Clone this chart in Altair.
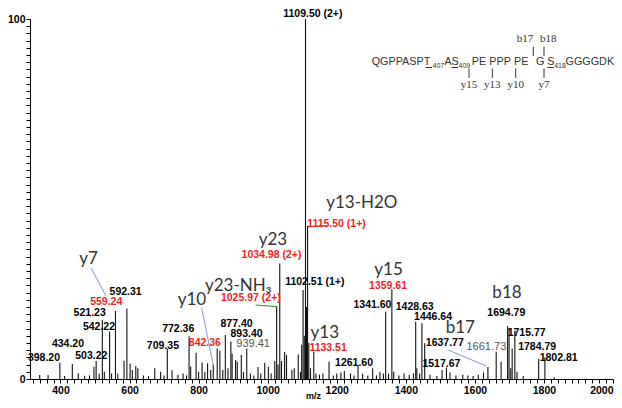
import altair as alt
import pandas as pd

# ---------------- data: peaks (m/z, relative intensity %) ----------------
peak_mz = [339.8, 364, 398.20, 412, 434.20, 451.5, 470, 484, 496.9, 503.22, 512,
           521.23, 527, 542.22, 548, 559.24, 566, 584, 592.31, 601.6, 608, 618, 624,
           640, 655, 673, 690, 700, 709.35, 723, 740, 755, 765, 772.36, 777, 792.7,
           800, 810, 818, 826, 835, 842.36, 853.8, 861.6, 870, 877.40, 885, 893.40,
           897, 907, 912, 923.6, 930, 939.41, 950, 960, 972, 980, 991.4, 1002, 1010,
           1020.5, 1025.97, 1030, 1034.98, 1040, 1049, 1054.5, 1070, 1077, 1088.5,
           1095, 1098.5, 1102.51, 1106, 1109.50, 1112.5, 1115.50, 1119, 1124, 1133.51,
           1140, 1150, 1160, 1177.7, 1190, 1200, 1212, 1222, 1240, 1250, 1261.60,
           1275, 1290, 1304, 1315, 1325, 1335, 1341.60, 1350, 1359.61, 1365, 1380,
           1395, 1410, 1422, 1428.63, 1432, 1440, 1446.64, 1454.7, 1470, 1490, 1505,
           1517.67, 1528, 1545, 1565, 1580, 1595, 1610, 1625, 1637.77, 1661.73, 1676,
           1694.79, 1699, 1704, 1708, 1715.77, 1722, 1740, 1784.79, 1802.81, 1830]
peak_int = [1.1, 1.1, 4.5, 0.8, 4.2, 1.6, 0.9, 1.0, 3.4, 5.0, 1.5,
            16.4, 2.0, 13.1, 1.5, 18.9, 1.5, 5.1, 19.6, 4.3, 2.5, 3.6, 3.0,
            1.0, 0.8, 3.0, 2.0, 1.0, 8.4, 2.4, 1.2, 1.5, 1.0, 11.9, 3.5, 7.3,
            2.0, 4.6, 2.0, 4.4, 2.5, 4.0, 8.5, 7.9, 2.5, 12.2, 3.0, 10.4,
            7.0, 5.3, 4.8, 6.7, 2.0, 8.5, 1.5, 1.0, 3.3, 1.5, 4.5, 3.3, 1.5,
            5.0, 20.3, 4.0, 32.1, 5.0, 7.5, 6.7, 2.5, 3.0, 6.8,
            2.0, 9.5, 24.7, 12.0, 100, 20.0, 42.5, 10.0, 3.0, 7.6,
            1.5, 1.2, 1.5, 4.8, 1.0, 1.5, 1.8, 2.2, 1.5, 1.0, 3.9,
            1.5, 1.0, 3.0, 1.0, 2.0, 1.5, 18.7, 1.5, 24.9, 2.0, 1.0,
            1.5, 1.2, 1.5, 15.9, 3.0, 1.5, 15.5, 9.9, 1.2, 0.8, 2.5,
            3.2, 1.8, 1.0, 1.2, 1.0, 0.8, 1.2, 1.8, 3.3, 7.6, 4.8,
            14.7, 14.2, 3.0, 8.5, 13.5, 2.0, 0.8, 5.6, 6.0, 0.5]

# ---------------- peak value labels ----------------
num_text = ["1109.50 (2+)", "592.31", "521.23", "542.22", "434.20", "503.22", "398.20",
            "709.35", "772.36", "877.40", "893.40", "1102.51 (1+)", "1341.60", "1428.63",
            "1446.64", "1261.60", "1517.67", "1637.77", "1694.79", "1715.77", "1784.79",
            "1802.81"]
num_mz = [1130.7, 588.7, 484.5, 511.4, 421.7, 489.1, 352.2,
          696.6, 740.9, 909.9, 938.8, 1136.4, 1303.4, 1425.8,
          1478.8, 1250.2, 1503.1, 1513.0, 1691.0, 1750.0, 1780.3,
          1842.5]
num_int = [101.4, 24.25, 18.25, 14.4, 9.6, 6.4, 5.9,
           9.2, 13.8, 15.3, 12.5, 26.9, 20.5, 19.9,
           17.1, 4.4, 4.2, 9.9, 18.25, 12.9, 8.8,
           5.75]

red_text = ["559.24", "842.36", "1025.97 (2+)", "1034.98 (2+)", "1115.50 (1+)",
            "1359.61", "1133.51"]
red_mz = [532.5, 818.1, 951.3, 1011.1, 1199.3, 1348.6, 1174.9]
red_int = [21.5, 9.9, 22.4, 34.4, 43.1, 25.9, 8.7]

gray_text = ["939.41", "1661.73"]
gray_mz = [957.9, 1633.3]
gray_int = [9.7, 9.0]

ion_text = ["y7", "y10", "y23-NH\u2083", "y23", "y13-H2O", "y15", "y13", "b17", "b18"]
ion_mz = [481.0, 780.5, 914.5, 1015.0, 1272.5, 1350.0, 1165.4, 1558.0, 1693.0]
ion_int = [33.25, 21.9, 25.9, 38.6, 48.9, 30.3, 12.7, 14.25, 24.0]

# connector lines (from, to) in m/z / intensity
line_mz1 = [489.1, 808.6, 1522.2, 964.8, 1117.1]
line_int1 = [30.75, 19.9, 8.05, 20.55, 42.3]
line_mz2 = [532.5, 842.1, 1633.3, 1027.3, 1170.3]
line_int2 = [22.9, 3.9, 3.6, 20.1, 42.6]
line_kind = ["blue", "blue", "blue", "green", "green"]

# sequence annotation (text, left x px in plot, kind)
seq_pieces = [("QGPPASPT", 341.7, "main"), ("407", 402.5, "sub"), ("A", 414.5, "main"),
              ("S", 421.5, "main"), ("409", 428.5, "sub"), ("PE", 441.7, "main"),
              ("PPP", 459.3, "main"), ("PE", 484, "main"), ("G", 506, "main"),
              ("S", 517.3, "main"), ("418", 524.2, "sub"), ("GGGGDK", 535.5, "main")]
underlines = [(395.5, 402), (421.5, 428.3), (517.3, 524)]
lower_ticks = [("y15", 439), ("y13", 462.3), ("y10", 485.7), ("y7", 514)]
upper_ticks = [("b17", 503.3, 495), ("b18", 514, 518.3)]

# ---------------- chart ----------------
peaks = pd.DataFrame({"mz": peak_mz, "intensity": peak_int})
one = pd.DataFrame({"k": [0]})
xscale = alt.Scale(domain=[311.7, 2000], nice=False, zero=False)
yscale = alt.Scale(domain=[0, 100], nice=False)

xaxis = alt.Axis(values=list(range(320, 2001, 20)), format="d",
                 labelExpr="datum.value % 200 == 0 ? datum.label : ''",
                 labelFont="Liberation Sans", labelFontWeight="bold", labelFontSize=10.5,
                 labelColor="black", labelPadding=2, labelFlush=True, labelOverlap=False,
                 labelBound=False,
                 tickSize=4, tickColor="black", domainColor="black", grid=False,
                 title="m/z", titleFont="Liberation Sans", titleFontSize=9,
                 titleFontWeight="bold", titleColor="black", titleX=283, titleY=16,
                 titleBaseline="middle", titleAlign="center")
yaxis = alt.Axis(values=list(range(0, 101, 2)), format="d",
                 labelExpr="datum.value == 0 || datum.value == 100 ? datum.label : ''",
                 labelFont="Liberation Sans", labelFontWeight="bold", labelFontSize=10.5,
                 labelColor="black", labelPadding=1, labelOverlap=False, labelBound=False,
                 labelFlush=False,
                 tickSize=4, tickColor="black", domainColor="black", grid=False, title=None)

base_peaks = alt.Chart(peaks).mark_rule(color="#111111", strokeWidth=1.1).encode(
    x=alt.X("mz:Q", scale=xscale, axis=xaxis),
    y=alt.Y("intensity:Q", scale=yscale, axis=yaxis),
    y2=alt.datum(0),
)

def text_layer(texts, mzs, ints, **kw):
    df = pd.DataFrame({"t": texts, "mz": mzs, "i": ints})
    return alt.Chart(df).mark_text(baseline="middle", align="center", **kw).encode(
        x=alt.X("mz:Q", scale=xscale, axis=xaxis),
        y=alt.Y("i:Q", scale=yscale, axis=yaxis), text="t:N")

nums = text_layer(num_text, num_mz, num_int, font="Liberation Sans", fontSize=10.5,
                  fontWeight="bold", color="black")
reds = text_layer(red_text, red_mz, red_int, font="Liberation Sans", fontSize=10.5,
                  fontWeight="bold", color="#f01e1e")
grays = text_layer(gray_text, gray_mz, gray_int, font="Liberation Sans", fontSize=11,
                   color="#555555")
ions = text_layer(ion_text, ion_mz, ion_int, font="Lato", fontSize=17, color="#333333")

lines_df = pd.DataFrame({"x1": line_mz1, "y1": line_int1, "x2": line_mz2,
                         "y2": line_int2, "k": line_kind})
connectors = alt.Chart(lines_df).mark_rule(strokeWidth=1.1).encode(
    x=alt.X("x1:Q", scale=xscale, axis=xaxis), y=alt.Y("y1:Q", scale=yscale, axis=yaxis),
    x2="x2:Q", y2="y2:Q",
    color=alt.Color("k:N", scale=alt.Scale(domain=["blue", "green"],
                                            range=["#8aaad6", "#3c9a3c"]), legend=None))

layers = [base_peaks, connectors, nums, reds, grays, ions]

# sequence annotation
for txt, px, kind in seq_pieces:
    if kind == "main":
        layers.append(alt.Chart(one).mark_text(
            text=txt, align="left", baseline="middle", font="Liberation Sans",
            fontSize=10.8, color="#333333").encode(x=alt.value(px), y=alt.value(42.7)))
    else:
        layers.append(alt.Chart(one).mark_text(
            text=txt, align="left", baseline="middle", font="Liberation Sans",
            fontSize=7, color="#333333").encode(x=alt.value(px), y=alt.value(47)))
for a, b in underlines:
    layers.append(alt.Chart(one).mark_rule(color="#333333", strokeWidth=1).encode(
        x=alt.value(a), x2=alt.value(b), y=alt.value(48.5)))
for lab, px in lower_ticks:
    layers.append(alt.Chart(one).mark_rule(color="#333333", strokeWidth=1).encode(
        x=alt.value(px), y=alt.value(49.5), y2=alt.value(59)))
    layers.append(alt.Chart(one).mark_text(
        text=lab, align="center", baseline="middle", font="Liberation Serif",
        fontSize=11, color="#333333").encode(x=alt.value(px), y=alt.value(66)))
for lab, px, lx in upper_ticks:
    layers.append(alt.Chart(one).mark_rule(color="#333333", strokeWidth=1).encode(
        x=alt.value(px), y=alt.value(27.7), y2=alt.value(37)))
    layers.append(alt.Chart(one).mark_text(
        text=lab, align="center", baseline="middle", font="Liberation Serif",
        fontSize=11, color="#333333").encode(x=alt.value(lx), y=alt.value(19.5)))

chart = alt.layer(*layers).properties(
    width=583, height=360,
    autosize=alt.AutoSizeParams(type="none"),
    padding={"left": 22, "top": 11, "right": 1, "bottom": 21},
    background="white",
).configure_view(stroke=None)

chart.save("out.html", embed_options={"renderer": "svg", "actions": False})
